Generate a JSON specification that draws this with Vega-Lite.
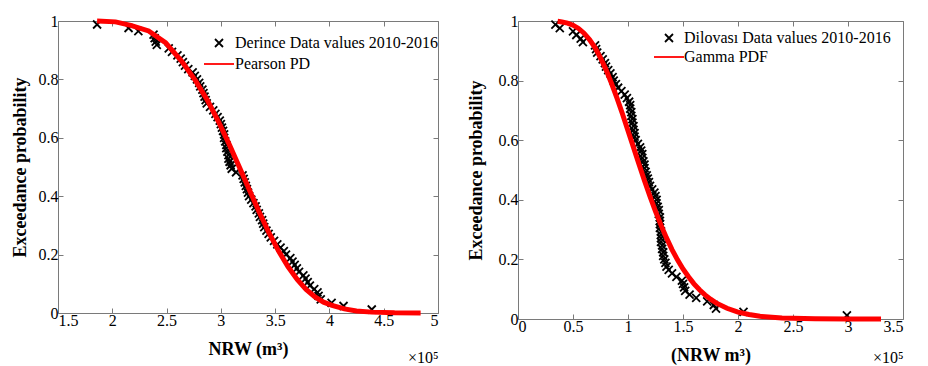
{
  "$schema": "https://vega.github.io/schema/vega-lite/v6.json",
  "autosize": {"type": "pad"},
  "padding": {"left": 10, "top": 10, "right": 0, "bottom": 0},
  "bounds": "flush",
  "spacing": 80,
  "background": "white",
  "config": {
    "view": {"stroke": "#7a7a7a", "strokeWidth": 1, "fill": "white"},
    "font": "Liberation Serif",
    "axis": {"labelFont": "Liberation Serif", "labelFontSize": 16, "labelColor": "black", "titleFont": "Liberation Serif", "titleFontSize": 18, "titleFontWeight": "bold", "titleColor": "black", "domain": false, "grid": false, "tickColor": "#7a7a7a", "tickSize": -5, "tickWidth": 1},
    "legend": {"labelFont": "Liberation Serif", "labelFontSize": 16, "labelColor": "black", "labelLimit": 0}
  },
  "datasets": {
    "derince": [
      {"nrw": 186000, "p": 0.988}, {"nrw": 215000, "p": 0.976}, {"nrw": 224000, "p": 0.965}, {"nrw": 238000, "p": 0.953}, {"nrw": 239000, "p": 0.941},
      {"nrw": 240000, "p": 0.929}, {"nrw": 241000, "p": 0.918}, {"nrw": 252000, "p": 0.906}, {"nrw": 255000, "p": 0.894}, {"nrw": 260000, "p": 0.882},
      {"nrw": 263000, "p": 0.871}, {"nrw": 265000, "p": 0.859}, {"nrw": 267000, "p": 0.847}, {"nrw": 270000, "p": 0.835}, {"nrw": 274000, "p": 0.824},
      {"nrw": 276000, "p": 0.812}, {"nrw": 278000, "p": 0.8}, {"nrw": 280000, "p": 0.788}, {"nrw": 281000, "p": 0.776}, {"nrw": 283000, "p": 0.765},
      {"nrw": 284000, "p": 0.753}, {"nrw": 285000, "p": 0.741}, {"nrw": 286000, "p": 0.729}, {"nrw": 287000, "p": 0.718}, {"nrw": 290000, "p": 0.706},
      {"nrw": 293000, "p": 0.694}, {"nrw": 295000, "p": 0.682}, {"nrw": 297000, "p": 0.671}, {"nrw": 299000, "p": 0.659}, {"nrw": 300000, "p": 0.647},
      {"nrw": 301000, "p": 0.635}, {"nrw": 302000, "p": 0.624}, {"nrw": 303000, "p": 0.612}, {"nrw": 303000, "p": 0.6}, {"nrw": 304000, "p": 0.588},
      {"nrw": 305000, "p": 0.576}, {"nrw": 305000, "p": 0.565}, {"nrw": 306000, "p": 0.553}, {"nrw": 307000, "p": 0.541}, {"nrw": 307000, "p": 0.529},
      {"nrw": 308000, "p": 0.518}, {"nrw": 309000, "p": 0.506}, {"nrw": 310000, "p": 0.494}, {"nrw": 314000, "p": 0.482}, {"nrw": 320000, "p": 0.471},
      {"nrw": 321000, "p": 0.459}, {"nrw": 322000, "p": 0.447}, {"nrw": 323000, "p": 0.435}, {"nrw": 324000, "p": 0.424}, {"nrw": 325000, "p": 0.412},
      {"nrw": 326000, "p": 0.4}, {"nrw": 328000, "p": 0.388}, {"nrw": 330000, "p": 0.376}, {"nrw": 332000, "p": 0.365}, {"nrw": 333000, "p": 0.353},
      {"nrw": 335000, "p": 0.341}, {"nrw": 336000, "p": 0.329}, {"nrw": 338000, "p": 0.318}, {"nrw": 339000, "p": 0.306}, {"nrw": 340000, "p": 0.294},
      {"nrw": 342000, "p": 0.282}, {"nrw": 344000, "p": 0.271}, {"nrw": 346000, "p": 0.259}, {"nrw": 349000, "p": 0.247}, {"nrw": 352000, "p": 0.235},
      {"nrw": 355000, "p": 0.224}, {"nrw": 358000, "p": 0.212}, {"nrw": 360000, "p": 0.2}, {"nrw": 364000, "p": 0.188}, {"nrw": 366000, "p": 0.176},
      {"nrw": 368000, "p": 0.165}, {"nrw": 370000, "p": 0.153}, {"nrw": 372000, "p": 0.141}, {"nrw": 376000, "p": 0.129}, {"nrw": 378000, "p": 0.118},
      {"nrw": 380000, "p": 0.106}, {"nrw": 382000, "p": 0.094}, {"nrw": 386000, "p": 0.082}, {"nrw": 389000, "p": 0.071}, {"nrw": 390000, "p": 0.059},
      {"nrw": 392000, "p": 0.047}, {"nrw": 402000, "p": 0.035}, {"nrw": 413000, "p": 0.024}, {"nrw": 439000, "p": 0.012}
    ],
    "pearson": [
      {"nrw": 186000, "p": 1.0}, {"nrw": 203000, "p": 0.997}, {"nrw": 217000, "p": 0.985}, {"nrw": 233500, "p": 0.966}, {"nrw": 249000, "p": 0.926},
      {"nrw": 264000, "p": 0.862}, {"nrw": 276800, "p": 0.795}, {"nrw": 288000, "p": 0.726}, {"nrw": 297900, "p": 0.655}, {"nrw": 307500, "p": 0.579},
      {"nrw": 317000, "p": 0.5}, {"nrw": 326300, "p": 0.421}, {"nrw": 335400, "p": 0.345}, {"nrw": 344400, "p": 0.274}, {"nrw": 353200, "p": 0.212},
      {"nrw": 361800, "p": 0.159}, {"nrw": 370300, "p": 0.115}, {"nrw": 378500, "p": 0.081}, {"nrw": 386700, "p": 0.055}, {"nrw": 394600, "p": 0.037},
      {"nrw": 402400, "p": 0.026}, {"nrw": 413800, "p": 0.014}, {"nrw": 424900, "p": 0.007}, {"nrw": 439000, "p": 0.003}, {"nrw": 460000, "p": 0.0005},
      {"nrw": 484000, "p": 0.0}
    ],
    "dilovasi": [
      {"nrw": 34000, "p": 0.988}, {"nrw": 38000, "p": 0.976}, {"nrw": 50000, "p": 0.965}, {"nrw": 53000, "p": 0.953}, {"nrw": 57000, "p": 0.941},
      {"nrw": 59000, "p": 0.929}, {"nrw": 70000, "p": 0.918}, {"nrw": 71000, "p": 0.906}, {"nrw": 72000, "p": 0.894}, {"nrw": 75000, "p": 0.882},
      {"nrw": 77000, "p": 0.871}, {"nrw": 79000, "p": 0.859}, {"nrw": 80000, "p": 0.847}, {"nrw": 82000, "p": 0.835}, {"nrw": 84000, "p": 0.824},
      {"nrw": 86000, "p": 0.812}, {"nrw": 87000, "p": 0.8}, {"nrw": 89000, "p": 0.788}, {"nrw": 91000, "p": 0.776}, {"nrw": 94000, "p": 0.765},
      {"nrw": 97000, "p": 0.753}, {"nrw": 99000, "p": 0.741}, {"nrw": 101000, "p": 0.729}, {"nrw": 102000, "p": 0.718}, {"nrw": 102000, "p": 0.706},
      {"nrw": 103000, "p": 0.694}, {"nrw": 103000, "p": 0.682}, {"nrw": 104000, "p": 0.671}, {"nrw": 104000, "p": 0.659}, {"nrw": 105000, "p": 0.647},
      {"nrw": 105000, "p": 0.635}, {"nrw": 106000, "p": 0.624}, {"nrw": 106000, "p": 0.612}, {"nrw": 107000, "p": 0.6}, {"nrw": 109000, "p": 0.588},
      {"nrw": 111000, "p": 0.576}, {"nrw": 112000, "p": 0.565}, {"nrw": 113000, "p": 0.553}, {"nrw": 113000, "p": 0.541}, {"nrw": 114000, "p": 0.529},
      {"nrw": 115000, "p": 0.518}, {"nrw": 115000, "p": 0.506}, {"nrw": 116000, "p": 0.494}, {"nrw": 117000, "p": 0.482}, {"nrw": 118000, "p": 0.471},
      {"nrw": 119000, "p": 0.459}, {"nrw": 120000, "p": 0.447}, {"nrw": 122000, "p": 0.435}, {"nrw": 124000, "p": 0.424}, {"nrw": 125000, "p": 0.412},
      {"nrw": 126000, "p": 0.4}, {"nrw": 126000, "p": 0.388}, {"nrw": 127000, "p": 0.376}, {"nrw": 128000, "p": 0.365}, {"nrw": 128000, "p": 0.353},
      {"nrw": 129000, "p": 0.341}, {"nrw": 129000, "p": 0.329}, {"nrw": 129000, "p": 0.318}, {"nrw": 129000, "p": 0.306}, {"nrw": 130000, "p": 0.294},
      {"nrw": 130000, "p": 0.282}, {"nrw": 130000, "p": 0.271}, {"nrw": 130000, "p": 0.259}, {"nrw": 131000, "p": 0.247}, {"nrw": 131000, "p": 0.235},
      {"nrw": 132000, "p": 0.224}, {"nrw": 132000, "p": 0.212}, {"nrw": 133000, "p": 0.2}, {"nrw": 134000, "p": 0.188}, {"nrw": 135000, "p": 0.176},
      {"nrw": 137000, "p": 0.165}, {"nrw": 140000, "p": 0.153}, {"nrw": 144000, "p": 0.141}, {"nrw": 149000, "p": 0.129}, {"nrw": 150000, "p": 0.118},
      {"nrw": 151000, "p": 0.106}, {"nrw": 152000, "p": 0.094}, {"nrw": 156000, "p": 0.082}, {"nrw": 162000, "p": 0.071}, {"nrw": 172000, "p": 0.059},
      {"nrw": 178000, "p": 0.047}, {"nrw": 180000, "p": 0.035}, {"nrw": 205000, "p": 0.024}, {"nrw": 299000, "p": 0.012}
    ],
    "gamma": [
      {"nrw": 36000, "p": 0.999}, {"nrw": 40000, "p": 0.9965}, {"nrw": 45000, "p": 0.993}, {"nrw": 50000, "p": 0.986}, {"nrw": 55000, "p": 0.975},
      {"nrw": 60000, "p": 0.959}, {"nrw": 65000, "p": 0.938}, {"nrw": 70000, "p": 0.911}, {"nrw": 75000, "p": 0.876}, {"nrw": 80000, "p": 0.837},
      {"nrw": 85000, "p": 0.791}, {"nrw": 90000, "p": 0.741}, {"nrw": 95000, "p": 0.688}, {"nrw": 100000, "p": 0.632}, {"nrw": 105000, "p": 0.576},
      {"nrw": 110000, "p": 0.519}, {"nrw": 115000, "p": 0.464}, {"nrw": 120000, "p": 0.411}, {"nrw": 125000, "p": 0.361}, {"nrw": 130000, "p": 0.315},
      {"nrw": 135000, "p": 0.272}, {"nrw": 140000, "p": 0.233}, {"nrw": 145000, "p": 0.1985}, {"nrw": 150000, "p": 0.168}, {"nrw": 155000, "p": 0.1416},
      {"nrw": 160000, "p": 0.118}, {"nrw": 165000, "p": 0.098}, {"nrw": 170000, "p": 0.081}, {"nrw": 175000, "p": 0.0665}, {"nrw": 180000, "p": 0.054},
      {"nrw": 190000, "p": 0.036}, {"nrw": 200000, "p": 0.023}, {"nrw": 210000, "p": 0.015}, {"nrw": 220000, "p": 0.009}, {"nrw": 240000, "p": 0.003},
      {"nrw": 270000, "p": 0.001}, {"nrw": 300000, "p": 0.0}, {"nrw": 330000, "p": 0.0}
    ]
  },
  "resolve": {"scale": {"color": "independent", "shape": "independent"}, "legend": {"color": "independent", "shape": "independent"}},
  "hconcat": [
    {
      "width": 380,
      "height": 292,
      "resolve": {"axis": {"x": "independent", "y": "independent"}},
      "layer": [
        {
          "data": {"name": "derince"},
          "mark": {"type": "point", "filled": false, "strokeWidth": 1.8, "size": 64, "opacity": 1},
          "encoding": {
            "x": {"field": "nrw", "type": "quantitative", "scale": {"domain": [150000, 500000], "nice": false, "zero": false},
                  "axis": {"orient": "bottom", "values": [150000, 200000, 250000, 300000, 350000, 400000, 450000, 500000], "labelExpr": "datum.value / 100000", "labelPadding": 4, "title": "NRW (m³)", "titlePadding": 12}},
            "y": {"field": "p", "type": "quantitative", "scale": {"domain": [0, 1], "nice": false},
                  "axis": {"orient": "left", "values": [0, 0.2, 0.4, 0.6, 0.8, 1], "format": "~g", "labelPadding": 5, "title": "Exceedance probability", "titlePadding": 9}},
            "color": {"datum": "Derince Data values 2010-2016", "type": "nominal",
                      "scale": {"domain": ["Derince Data values 2010-2016", "Pearson PD"], "range": ["black", "red"]},
                      "legend": {"title": null, "orient": "none", "legendX": 153, "legendY": 14, "symbolSize": 64, "rowPadding": 5, "labelOffset": 8, "padding": 0, "symbolStrokeWidth": 1.8,
                                 "encode": {"symbols": {"update": {"strokeWidth": {"signal": "datum.value === 'Pearson PD' ? 5 : 1.8"}}}}}},
            "shape": {"datum": "Derince Data values 2010-2016", "type": "nominal",
                      "scale": {"domain": ["Derince Data values 2010-2016", "Pearson PD"], "range": ["M-1,-1L1,1M-1,1L1,-1", "M-3.75,0L3.75,0"]},
                      "legend": {"title": null, "orient": "none", "legendX": 153, "legendY": 14, "symbolSize": 64, "rowPadding": 5, "labelOffset": 8, "padding": 0, "symbolStrokeWidth": 1.8,
                                 "encode": {"symbols": {"update": {"strokeWidth": {"signal": "datum.value === 'Pearson PD' ? 5 : 1.8"}}}}}}
          }
        },
        {
          "data": {"name": "pearson"},
          "mark": {"type": "line", "strokeWidth": 5},
          "encoding": {
            "x": {"field": "nrw", "type": "quantitative", "axis": {"orient": "top", "values": [150000, 200000, 250000, 300000, 350000, 400000, 450000, 500000], "labels": false, "title": null}},
            "y": {"field": "p", "type": "quantitative", "axis": {"orient": "right", "values": [0, 0.2, 0.4, 0.6, 0.8, 1], "labels": false, "title": null}},
            "color": {"datum": "Pearson PD", "type": "nominal"}
          }
        },
        {
          "mark": {"type": "text", "align": "left", "baseline": "middle", "fontSize": 15, "font": "Liberation Serif", "color": "black"},
          "encoding": {"x": {"datum": 158300, "type": "quantitative", "axis": {"orient": "bottom", "ticks": false, "labels": false, "domain": false, "title": "×10⁵", "titleAnchor": "end", "titleFontWeight": "normal", "titleFontSize": 16, "titleBaseline": "middle", "titleY": 44}}, "y": {"datum": 0.348, "type": "quantitative", "axis": null}, "text": {"value": "Shape parameter = -0.28"}}
        },
        {
          "mark": {"type": "text", "align": "left", "baseline": "middle", "fontSize": 15, "font": "Liberation Serif", "color": "black"},
          "encoding": {"x": {"datum": 158300, "type": "quantitative", "axis": null}, "y": {"datum": 0.268, "type": "quantitative", "axis": null}, "text": {"value": "Scale\u00a0\u00a0\u00a0\u00a0parameter\u00a0\u00a0\u00a0= 48604"}}
        },
        {
          "mark": {"type": "text", "align": "left", "baseline": "middle", "fontSize": 15, "font": "Liberation Serif", "color": "black"},
          "encoding": {"x": {"datum": 158300, "type": "quantitative", "axis": null}, "y": {"datum": 0.195, "type": "quantitative", "axis": null}, "text": {"value": "Location parameter\u00a0\u00a0\u00a0\u00a0\u00a0\u00a0= 299180"}}
        }
      ]
    },
    {
      "width": 385,
      "height": 298,
      "resolve": {"axis": {"x": "independent", "y": "independent"}},
      "layer": [
        {
          "data": {"name": "dilovasi"},
          "mark": {"type": "point", "filled": false, "strokeWidth": 1.8, "size": 64, "opacity": 1},
          "encoding": {
            "x": {"field": "nrw", "type": "quantitative", "scale": {"domain": [0, 350000], "nice": false, "zero": false},
                  "axis": {"orient": "bottom", "values": [0, 50000, 100000, 150000, 200000, 250000, 300000, 350000], "labelExpr": "datum.value / 100000", "labelPadding": 4, "title": "(NRW m³)", "titlePadding": 12}},
            "y": {"field": "p", "type": "quantitative", "scale": {"domain": [0, 1], "nice": false},
                  "axis": {"orient": "left", "values": [0, 0.2, 0.4, 0.6, 0.8, 1], "format": "~g", "labelPadding": 5, "title": "Exceedance probability", "titlePadding": 13}},
            "color": {"datum": "Dilovası Data values 2010-2016", "type": "nominal",
                      "scale": {"domain": ["Dilovası Data values 2010-2016", "Gamma PDF"], "range": ["black", "red"]},
                      "legend": {"title": null, "orient": "none", "legendX": 143, "legendY": 9, "symbolSize": 64, "rowPadding": 3, "labelOffset": 7, "padding": 0, "symbolStrokeWidth": 1.8,
                                 "encode": {"symbols": {"update": {"strokeWidth": {"signal": "datum.value === 'Gamma PDF' ? 5 : 1.8"}}}}}},
            "shape": {"datum": "Dilovası Data values 2010-2016", "type": "nominal",
                      "scale": {"domain": ["Dilovası Data values 2010-2016", "Gamma PDF"], "range": ["M-1,-1L1,1M-1,1L1,-1", "M-3.75,0L3.75,0"]},
                      "legend": {"title": null, "orient": "none", "legendX": 143, "legendY": 9, "symbolSize": 64, "rowPadding": 3, "labelOffset": 7, "padding": 0, "symbolStrokeWidth": 1.8,
                                 "encode": {"symbols": {"update": {"strokeWidth": {"signal": "datum.value === 'Gamma PDF' ? 5 : 1.8"}}}}}}
          }
        },
        {
          "data": {"name": "gamma"},
          "mark": {"type": "line", "strokeWidth": 5},
          "encoding": {
            "x": {"field": "nrw", "type": "quantitative", "axis": {"orient": "top", "values": [0, 50000, 100000, 150000, 200000, 250000, 300000, 350000], "labels": false, "title": null}},
            "y": {"field": "p", "type": "quantitative", "axis": {"orient": "right", "values": [0, 0.2, 0.4, 0.6, 0.8, 1], "labels": false, "title": null}},
            "color": {"datum": "Gamma PDF", "type": "nominal"}
          }
        },
        {
          "mark": {"type": "text", "align": "left", "baseline": "middle", "fontSize": 15, "font": "Liberation Serif", "color": "black"},
          "encoding": {"x": {"datum": 174100, "type": "quantitative", "axis": {"orient": "bottom", "ticks": false, "labels": false, "domain": false, "title": "×10⁵", "titleAnchor": "end", "titleFontWeight": "normal", "titleFontSize": 16, "titleBaseline": "middle", "titleY": 38}}, "y": {"datum": 0.464, "type": "quantitative", "axis": null}, "text": {"value": "Shape parameter = 9.86"}}
        },
        {
          "mark": {"type": "text", "align": "left", "baseline": "middle", "fontSize": 15, "font": "Liberation Serif", "color": "black"},
          "encoding": {"x": {"datum": 174100, "type": "quantitative", "axis": null}, "y": {"datum": 0.402, "type": "quantitative", "axis": null}, "text": {"value": "Scale\u00a0\u00a0\u00a0\u00a0parameter\u00a0\u00a0\u00a0= 11722"}}
        }
      ]
    }
  ]
}
